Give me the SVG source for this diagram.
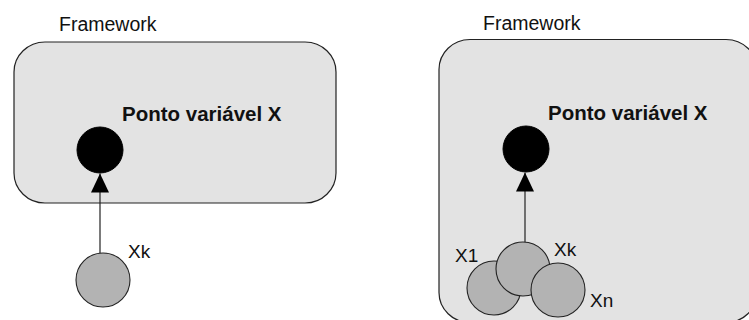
<svg xmlns="http://www.w3.org/2000/svg" width="749" height="320" viewBox="0 0 749 320">
<style>
.frame{fill:#e3e3e3;stroke:#222;stroke-width:1.2}
.title{font-family:"Liberation Sans",Arial,sans-serif;font-size:19.5px;fill:#111}
.bold{font-family:"Liberation Sans",Arial,sans-serif;font-size:20.5px;font-weight:bold;fill:#111}
.lbl{font-family:"Liberation Sans",Arial,sans-serif;font-size:19px;fill:#111}
.pt{fill:#000;stroke:#000;stroke-width:1}
.inst{fill:#b3b3b3;stroke:#222;stroke-width:1.1}
.conn{stroke:#222;stroke-width:1.2;fill:none}
</style>
<defs>
<marker id="tri" viewBox="0 0 19 18" refX="19" refY="9" markerWidth="19" markerHeight="18" markerUnits="userSpaceOnUse" orient="auto">
<path d="M0 0 L19 9 L0 18 Z" fill="#000"/>
</marker>
</defs>
<g id="left-framework">
<rect class="frame" x="14" y="42" width="322" height="161" rx="31" ry="30"/>
<text class="title" x="59" y="31">Framework</text>
</g>
<g id="left-point">
<circle class="pt" cx="100" cy="150" r="23"/>
<text class="bold" x="122" y="121">Ponto variável X</text>
</g>
<g id="left-xk">
<circle class="inst" cx="103" cy="280" r="27"/>
<text class="lbl" x="128" y="258">Xk</text>
</g>
<g id="right-framework">
<rect class="frame" x="439" y="39.5" width="318" height="283" rx="31" ry="30"/>
<text class="title" x="483" y="30">Framework</text>
</g>
<g id="right-point">
<circle class="pt" cx="526" cy="149" r="23"/>
<text class="bold" x="548" y="120">Ponto variável X</text>
</g>
<g id="right-x1">
<circle class="inst" cx="494" cy="288" r="27"/>
<text class="lbl" x="455" y="262">X1</text>
</g>
<g id="right-xk">
<circle class="inst" cx="523" cy="269" r="27"/>
<text class="lbl" x="554" y="256">Xk</text>
</g>
<g id="right-xn">
<circle class="inst" cx="558" cy="290" r="27"/>
<text class="lbl" x="590" y="307">Xn</text>
</g>
<g id="connectors">
<line class="conn" x1="100" y1="253" x2="100" y2="173.5" marker-end="url(#tri)"/>
<line class="conn" x1="525" y1="242" x2="525" y2="172.5" marker-end="url(#tri)"/>
</g>
</svg>
